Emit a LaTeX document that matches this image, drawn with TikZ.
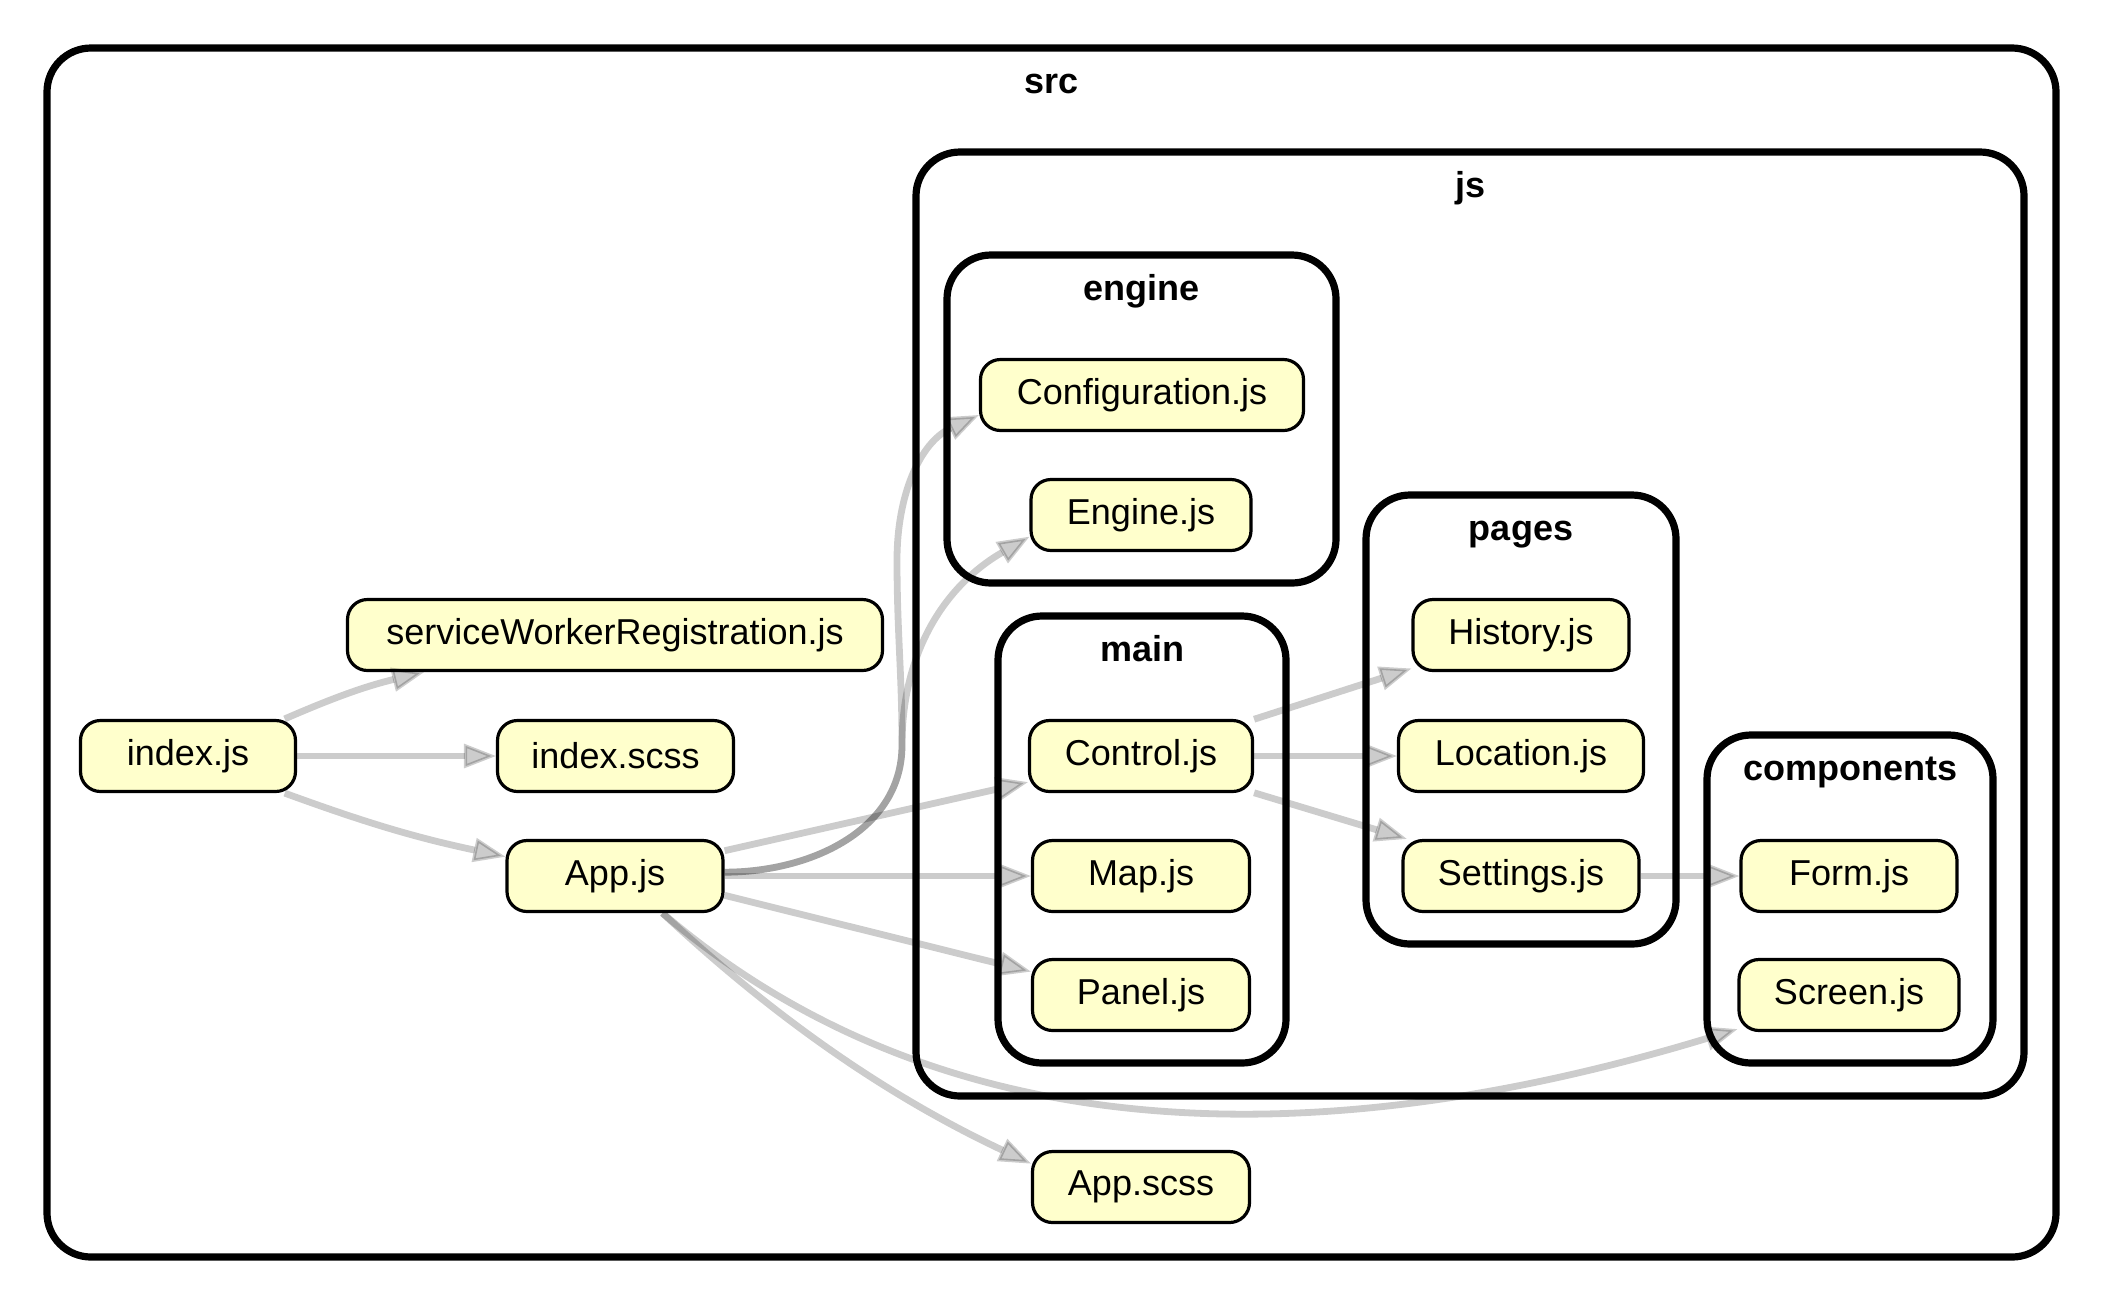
\documentclass[tikz,border=0pt]{standalone}
\usepackage{fontspec}
\setmainfont{Liberation Sans}
\usetikzlibrary{arrows.meta}
\definecolor{filefill}{HTML}{FFFFCC}

\begin{document}
\begin{tikzpicture}[x = 0.5pt, y = -0.5pt,
	folder/.style = {line width = 3.6pt, rounded corners = 22pt},
	folderlabel/.style = {anchor = base, inner sep = 0pt, font = \fontsize{18}{21}\selectfont\bfseries},
	file/.style = {draw, line width = 1.6pt, fill = filefill, rounded corners = 10pt, minimum height = 35.5pt, inner sep = 0pt, font = \fontsize{18}{21}\selectfont},
	dep/.style = {draw = black, draw opacity = 0.2, fill opacity = 0.2, line width = 3.4pt, -{Triangle[length = 16pt, width = 12pt, line width = 1.6pt, fill = black!99]}}]
			\fill[white] (0, 0) rectangle (2103, 1302);
			\useasboundingbox (0, 0) rectangle (2103, 1302);
			% folders
			\foreach \n/\l/\t/\r/\b in {src/47/48/2056/1257, js/916/152/2024/1096, engine/947/255/1336/583, main/998/616/1286/1063, pages/1366/495/1676/944, components/1707/735/1993/1063}
			{
			\draw[folder] (\l, \t) rectangle (\r, \b);
			\node[folderlabel] (\n-label) at ({(\l + \r) / 2}, {\t + 45}) {\n};
			}
			% files
			\foreach \n/\x/\y/\w/\t in {config/1142/395/161.5/Configuration.js, enginejs/1141/515/110/Engine.js, swr/615/635/267.5/serviceWorkerRegistration.js, index/188/756/107.5/index.js, iscss/615.5/756/118/index.scss, app/615/876/108/App.js, control/1141/756/111.5/Control.js, map/1141/876/108.5/Map.js, panel/1141/995/108.5/Panel.js, history/1521/635/108/History.js, location/1521/756/122.5/Location.js, settings/1521/876/118/Settings.js, form/1849/876/108/Form.js, screen/1849/995/110/Screen.js, appscss/1141/1187/108.5/App.scss}
			\node[file, minimum width = \w pt] (\n) at (\x, \y) {\t};
			% dependencies
			\draw[dep] (index.21) to[bend left = 5] (swr.191);
			\draw[dep] (index) -- (iscss);
			\draw[dep] (index.-21) to[bend right = 4] (app.170);
			\draw[dep] (app.2) to[out = 0, in = -90] (902, 745) to[out = 90, in = -90] (897, 560) to[out = 90, in = 205] (config.187);
			\draw[dep] (app.2) to[out = 0, in = -90] (902, 745) to[out = 90, in = 210] (enginejs.191);
			\draw[dep] (app.13) -- (control.193);
			\draw[dep] (app) -- (map);
			\draw[dep] (app.-10) -- (panel.168.5);
			\draw[dep] (app.-38) .. controls (964, 1171) and (1362, 1143) .. (screen.197);
			\draw[dep] (app.-38) .. controls (808, 1049) and (928, 1115) .. (appscss.168.5);
			\draw[dep] (control.18) -- (history.197);
			\draw[dep] (control) -- (location);
			\draw[dep] (control.-18) -- (settings.162.5);
			\draw[dep] (settings) -- (form);
\end{tikzpicture}
\end{document}
